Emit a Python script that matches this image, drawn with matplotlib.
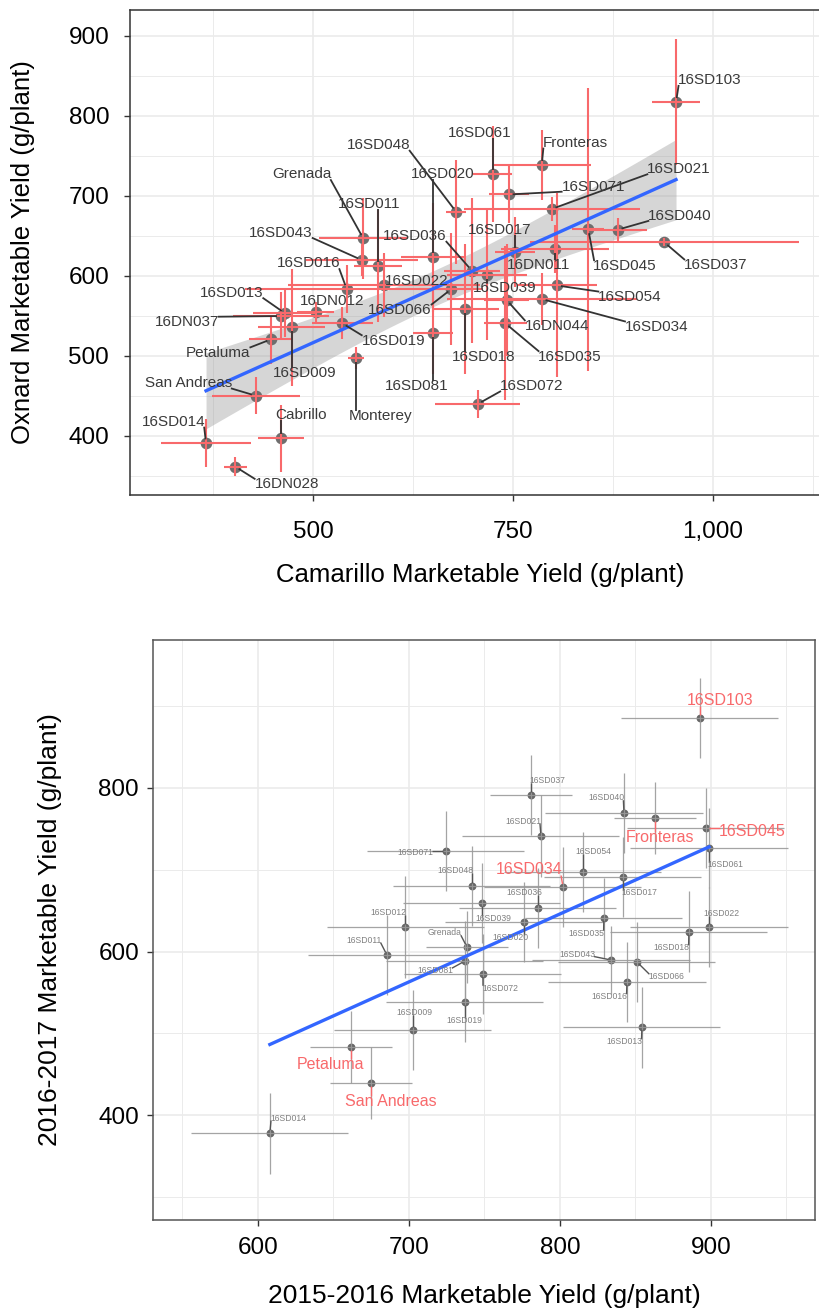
import numpy as np
import matplotlib
matplotlib.use('Agg')
import matplotlib.pyplot as plt
from matplotlib.ticker import FuncFormatter

plt.rcParams['font.family'] = ['Liberation Sans', 'DejaVu Sans']

# ---------------- Top panel data (Camarillo vs Oxnard) ----------------
top_names = ['16SD103', 'Fronteras', '16SD061', '16SD071', '16SD021', '16SD048', '16SD045',
             '16SD040', '16SD037', '16SD020', '16SD036', 'Grenada', '16SD011', '16SD043',
             '16SD017', '16DN011', '16SD039', '16SD066', '16SD022', '16SD018', '16DN044',
             '16SD035', '16SD034', '16SD054', '16SD072', '16SD013', '16DN037', '16SD009',
             'Petaluma', '16DN012', 'San Andreas', 'Cabrillo', '16SD014', '16DN028',
             'Monterey', '16SD019', '16SD081', '16SD016']
top_x = [953.8, 785.9, 724.4, 744.4, 798.4, 678.8, 844.1, 880.9, 939.1, 650.0, 698.4, 562.9,
         581.6, 560.9, 752.5, 802.5, 717.1, 673.1, 588.8, 690.6, 742.1, 740.4, 785.9, 805.0,
         705.9, 465.0, 460.0, 473.4, 447.5, 503.4, 428.4, 460.0, 366.3, 402.9, 553.4, 536.6,
         649.6, 542.1]
top_y = [817.1, 738.4, 726.8, 701.5, 683.4, 680.0, 658.0, 657.5, 641.8, 622.8, 606.5, 646.5,
         612.5, 619.6, 629.3, 633.0, 601.5, 583.4, 588.4, 558.0, 569.6, 540.5, 570.9, 587.8,
         439.6, 553.0, 549.6, 535.5, 520.5, 555.0, 450.0, 396.8, 390.5, 361.3, 496.8, 540.5,
         528.8, 583.4]
top_xerr = [30, 62, 24, 25, 110, 13, 20, 37, 168, 40, 35, 55, 30, 70, 25, 67, 50, 40, 120, 42,
            28, 27, 119, 50, 53, 40, 60, 42, 28, 23, 55, 29, 56, 14, 10, 38, 25, 127]
top_yerr = [79, 44, 60, 36, 15, 65, 177, 15, 5, 68, 91, 50, 70, 20, 44, 30, 82, 70, 40, 81,
            70, 96, 32, 115, 18, 30, 30, 73, 31, 12.5, 23, 42, 30, 12, 13.5, 20, 52, 30]

# ---------------- Bottom panel data (2015-16 vs 2016-17) ----------------
bot_names = ['16SD103', '16SD037', '16SD040', 'Fronteras', '16SD045', '16SD061', '16SD021',
             '16SD054', '16SD034', '16SD017', '16SD036', '16SD020', '16SD035', '16SD022',
             '16SD039', '16SD071', '16SD048', '16SD012', 'Grenada', '16SD011', '16SD081',
             '16SD072', '16SD019', '16SD009', 'Petaluma', 'San Andreas', '16SD014', '16SD043',
             '16SD066', '16SD016', '16SD013', '16SD018']
bot_x = [892.7, 780.8, 842.4, 862.9, 896.7, 898.7, 787.4, 815.2, 802.0, 841.7, 785.4, 776.2,
         829.1, 898.7, 748.3, 724.5, 741.7, 697.4, 738.4, 685.4, 737.1, 749.0, 737.1, 702.6,
         661.6, 674.8, 607.9, 833.8, 851.0, 844.4, 854.3, 885.4]
bot_y = [885.6, 791.4, 769.4, 763.3, 751.1, 726.6, 741.3, 697.2, 678.9, 691.1, 653.2, 636.1,
         641.0, 630.0, 659.3, 722.9, 680.1, 630.0, 605.5, 595.7, 588.4, 572.5, 538.2, 504.0,
         483.2, 439.0, 377.9, 589.6, 587.2, 562.7, 507.6, 623.9]
bot_xerr = [52, 27, 52, 27, 52, 52, 52, 52, 52, 52, 52, 52, 52, 52, 52, 52, 52, 52, 27, 52,
            52, 52, 52, 52, 27, 27, 52, 52, 52, 52, 52, 52]
bot_yerr = [49.5, 49, 49, 44, 49, 49, 50, 49, 49, 49, 49, 49, 49, 49, 49, 49, 49, 62, 44, 49,
            49, 49, 49, 49, 44, 44, 49.5, 41, 49, 49.5, 49.5, 49.5]
bot_highlight = ['16SD103', '16SD045', 'Fronteras', '16SD034', 'Petaluma', 'San Andreas']

# ---------------- Label placement (layout, data units) ----------------
top_label_pos = {
    '16SD103': (995.6, 844.6), 'Fronteras': (827.5, 766.3), '16SD061': (708.8, 778.0),
    '16SD021': (957.5, 733.4), '16SD071': (850.4, 711.3), '16SD048': (581.6, 763.4),
    '16SD020': (661.6, 726.8), 'Grenada': (485.9, 726.8), '16SD011': (570.4, 689.3),
    '16SD043': (460.0, 653.8), '16SD036': (627.5, 649.6), '16SD017': (733.8, 657.1),
    '16SD040': (958.8, 675.0), '16SD045': (890.0, 612.1), '16SD037': (1003.4, 613.4),
    '16DN011': (781.6, 613.4), '16SD016': (494.1, 615.5), '16SD022': (629.6, 593.8),
    '16SD039': (740.0, 584.3), '16SD054': (896.3, 573.8), '16SD013': (398.4, 578.8),
    '16DN012': (523.4, 568.8), '16SD066': (608.8, 557.1), '16DN037': (342.1, 542.5),
    '16SD034': (929.6, 536.3), '16DN044': (804.6, 537.1), 'Petaluma': (381.6, 503.8),
    '16SD019': (600.4, 518.8), '16SD009': (490.0, 478.0), '16SD035': (821.3, 498.8),
    '16SD018': (712.9, 498.8), 'Monterey': (584.6, 425.0), '16SD081': (629.6, 462.1),
    'San Andreas': (344.1, 465.5), '16SD072': (773.4, 462.1), 'Cabrillo': (484.6, 425.9),
    '16SD014': (325.4, 417.5), '16DN028': (467.1, 339.3),
}
bot_label_pos = {
    '16SD103': (906.2, 906.8), '16SD037': (791.6, 808.9), '16SD040': (830.7, 788.1),
    'Fronteras': (866.0, 739.2), '16SD045': (927.4, 746.5), '16SD061': (909.7, 707.0),
    '16SD021': (775.5, 759.6), '16SD054': (821.9, 722.1), '16SD034': (779.3, 699.7),
    '16SD017': (852.8, 672.0), '16SD036': (776.6, 672.0), '16SD022': (906.8, 645.9),
    '16SD071': (704.0, 721.7), '16SD048': (730.5, 698.5), '16SD039': (755.8, 639.8),
    '16SD020': (766.9, 616.9), '16SD012': (686.3, 648.3), 'Grenada': (723.8, 623.0),
    '16SD011': (670.2, 614.0), '16SD081': (717.2, 576.5), '16SD072': (760.3, 555.0),
    '16SD009': (703.8, 525.2), '16SD019': (736.4, 515.4), 'Petaluma': (647.9, 462.0),
    'San Andreas': (687.9, 416.3), '16SD014': (619.9, 396.3), '16SD043': (811.3, 596.9),
    '16SD066': (870.4, 569.2), '16SD016': (832.9, 544.7), '16SD013': (842.8, 489.7),
    '16SD018': (874.0, 604.6), '16SD035': (817.7, 622.3),
}

RED = '#F8696B'
BLUE = '#3366FF'
GRID = '#EBEBEB'

fig = plt.figure(figsize=(8.2, 13.1), dpi=100)
W, H = 820.0, 1310.0


def px_axes(l, t, r, b):
    return [l / W, 1 - b / H, (r - l) / W, (b - t) / H]


def style(ax, xmaj, xmin, ymaj, ymin, fs, xpad, ypad):
    ax.set_facecolor('white')
    ax.set_xticks(xmaj)
    ax.set_xticks(xmin, minor=True)
    ax.set_yticks(ymaj)
    ax.set_yticks(ymin, minor=True)
    ax.grid(which='major', color=GRID, lw=1.2)
    ax.grid(which='minor', color=GRID, lw=0.7)
    ax.set_axisbelow(True)
    ax.tick_params(which='minor', length=0)
    ax.tick_params(which='major', length=4, width=1.0, color='#333333',
                   labelsize=fs, labelcolor='black')
    ax.tick_params(axis='x', which='major', pad=xpad)
    ax.tick_params(axis='y', which='major', pad=ypad)
    for s in ax.spines.values():
        s.set_color('#333333')
        s.set_linewidth(1.1)


def lm_fit(x, y, xs, tval):
    x = np.asarray(x, float)
    y = np.asarray(y, float)
    n = len(x)
    b, a = np.polyfit(x, y, 1)
    resid = y - (a + b * x)
    s = np.sqrt(np.sum(resid ** 2) / (n - 2))
    sxx = np.sum((x - x.mean()) ** 2)
    se = s * np.sqrt(1.0 / n + (xs - x.mean()) ** 2 / sxx)
    return a + b * xs, tval * se


def add_labels(ax, names, xs, ys, pos, colors, sizes, segcolors, rpx, thresh, seglw):
    items = []
    for n, x, y in zip(names, xs, ys):
        lx, ly = pos[n]
        t = ax.text(lx, ly, n, ha='center', va='center', fontsize=sizes[n],
                    color=colors[n], zorder=7)
        items.append((t, x, y, segcolors[n]))
    fig.canvas.draw()
    rend = fig.canvas.get_renderer()
    inv = ax.transData.inverted()
    for t, x, y, sc in items:
        bb = t.get_window_extent(rend)
        px, py = ax.transData.transform((x, y))
        pad = 1.0
        qx = min(max(px, bb.x0 + pad), bb.x1 - pad)
        qy = min(max(py, bb.y0 + 2), bb.y1 - 2)
        d = np.hypot(qx - px, qy - py)
        if d > thresh:
            ux, uy = (qx - px) / d, (qy - py) / d
            p0 = inv.transform((px + ux * rpx, py + uy * rpx))
            p1 = inv.transform((qx, qy))
            ax.plot([p0[0], p1[0]], [p0[1], p1[1]], color=sc, lw=seglw, zorder=6,
                    solid_capstyle='butt')


# ======================= TOP PANEL =======================
ax1 = fig.add_axes(px_axes(130, 10, 830, 495))
ax1.set_xlim(271.25, 1146.25)
ax1.set_ylim(325.9, 932.1)
style(ax1, [500, 750, 1000], [375, 625, 875, 1125],
      [400, 500, 600, 700, 800, 900], [350, 450, 550, 650, 750, 850], 17.5, 15, 11)
ax1.xaxis.set_major_formatter(FuncFormatter(lambda v, p: f'{v:,.0f}'))
ax1.spines['right'].set_visible(False)

tx = np.array(top_x)
xs = np.linspace(tx.min(), tx.max(), 100)
fit, ci = lm_fit(top_x, top_y, xs, 2.028)
ax1.fill_between(xs, fit - ci, fit + ci, color='#999999', alpha=0.4, lw=0, zorder=1)
ax1.scatter(top_x, top_y, s=70, color='#6E6E6E', zorder=3, linewidths=0)
ax1.errorbar(top_x, top_y, xerr=top_xerr, yerr=top_yerr, fmt='none', ecolor=RED,
             elinewidth=1.5, capsize=0, zorder=4)
ax1.plot(xs, fit, color=BLUE, lw=2.4, zorder=5)

ax1.set_xlabel('Camarillo Marketable Yield (g/plant)', fontsize=18.5, labelpad=14)
ax1.set_ylabel('Oxnard Marketable Yield (g/plant)', fontsize=18.5, labelpad=24)

tc = {n: '#3A3A3A' for n in top_names}
ts = {n: 11 for n in top_names}
tsc = {n: '#333333' for n in top_names}
add_labels(ax1, top_names, top_x, top_y, top_label_pos, tc, ts, tsc, 4, 7, 1.3)

# ======================= BOTTOM PANEL =======================
ax2 = fig.add_axes(px_axes(153, 640, 815, 1220))
ax2.set_xlim(530.5, 968.9)
ax2.set_ylim(271.6, 981.0)
style(ax2, [600, 700, 800, 900], [550, 650, 750, 850, 950],
      [400, 600, 800], [300, 500, 700, 900], 17.5, 8, 6)
for s in ax2.spines.values():
    s.set_color('#555555')

ax2.scatter(bot_x, bot_y, s=32, color='#666666', zorder=3, linewidths=0)
ax2.errorbar(bot_x, bot_y, xerr=bot_xerr, yerr=bot_yerr, fmt='none', ecolor='#9A9A9A',
             elinewidth=0.9, capsize=0, zorder=4, alpha=0.9)
bx = np.array(bot_x)
xs2 = np.linspace(bx.min(), bx.max(), 100)
fit2, _ = lm_fit(bot_x, bot_y, xs2, 2.04)
ax2.plot(xs2, fit2, color=BLUE, lw=2.4, zorder=5)

ax2.set_xlabel('2015-2016 Marketable Yield (g/plant)', fontsize=19, labelpad=18)
ax2.set_ylabel('2016-2017 Marketable Yield (g/plant)', fontsize=19, labelpad=26)

bc = {n: (RED if n in bot_highlight else '#808080') for n in bot_names}
bs = {n: (11.5 if n in bot_highlight else 6.2) for n in bot_names}
bsc = {n: (RED if n in bot_highlight else '#555555') for n in bot_names}
add_labels(ax2, bot_names, bot_x, bot_y, bot_label_pos, bc, bs, bsc, 3, 4, 1.0)

fig.savefig('out.png', dpi=100, facecolor='white')
